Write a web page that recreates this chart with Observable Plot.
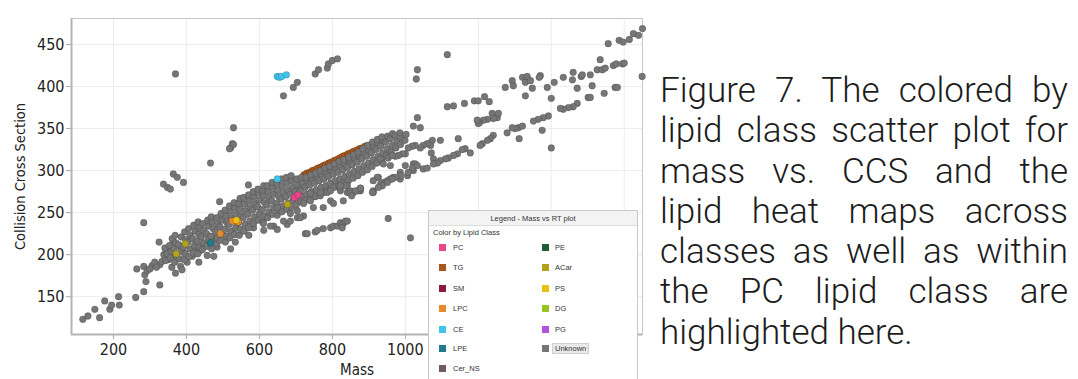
<!DOCTYPE html>
<html><head><meta charset="utf-8">
<script src="https://cdn.jsdelivr.net/npm/d3@7"></script>
<script src="https://cdn.jsdelivr.net/npm/@observablehq/plot@0.6"></script>
<style>
html,body{margin:0;padding:0;background:#fff;}
#root{position:relative;width:1078px;height:379px;overflow:hidden;background:#fff;}
#chart{position:absolute;left:0;top:0;}
#legend{position:absolute;left:428px;top:210px;width:208px;height:185px;border:1px solid #c9c9c9;background:#fff;font-family:"Liberation Sans",Arial,sans-serif;font-size:7.5px;color:#333;}
#legend .hdr{position:absolute;left:0;top:0;width:100%;height:14px;line-height:15px;text-align:center;background:#f3f3f3;border-bottom:1px solid #dcdcdc;}
#legend .sub{position:absolute;left:4px;top:17px;}
#legend .sw{position:absolute;width:7px;height:7px;}
#legend .lb{position:absolute;line-height:10px;}
#legend .hl{background:#e9e9e9;border:1px solid #cfcfcf;padding:0 2px;margin-left:-3px;}
#caption{position:absolute;left:660px;top:71px;width:408px;font-family:Roboto,"Open Sans",sans-serif;font-weight:300;font-size:35px;line-height:40.3px;color:#1c1c1c;}
#caption div{white-space:nowrap;}
#caption span{display:inline-block;white-space:nowrap;}
</style></head>
<body><div id="root"><div id="chart"></div><div id="legend"></div><div id="caption"></div></div>
<script>
// ---- axis ticks ----
const xTicks = [200, 400, 600, 800, 1000, 1200, 1400, 1600];
const xTickLabels = [200, 400, 600, 800, 1000];
const yTicks = [150, 200, 250, 300, 350, 400, 450];

// ---- lipid classes (legend order) ----
const classes = ["PC","TG","SM","LPC","CE","LPE","Cer_NS","PE","ACar","PS","DG","PG","Unknown"];
const classColors = ["#e8458b","#a8561c","#8c1a3c","#e8892c","#40c4ea","#1f7a8c","#6f5b5b","#1d5e33","#b3a21a","#e9c113","#98c41f","#b352e2","#767676"];

// ---- Unknown points [mass, CCS] ----
const unknownTail = [[116,123],[130,127],[149,135],[162,125],[176,145],[190,135],[195,140],[214,150],[216,140],[261,149],[264,183],[283,156],[283,186],[289,168],[286,176],[292,181],[306,187],[313,191],[327,188],[327,164],[325,215],[338,200],[283,238],[350,194],[356,197],[370,178],[384,186],[388,182],[365,215],[384,209],[391,203],[402,191],[416,198],[420,207],[434,191],[438,205],[447,213],[457,199],[475,198],[484,209],[475,219],[521,207],[534,215],[571,223],[584,232],[612,229],[639,234],[649,230],[676,236],[726,225],[753,227],[300,183],[318,185],[333,192],[345,205],[360,185],[376,195]];
const unknownUpperLeft = [[370,415],[666,389],[693,399],[704,405],[753,415],[762,420],[786,422],[789,427],[800,431],[814,433],[529,351],[521,327],[526,332],[529,331],[518,326],[466,309],[337,284],[348,280],[356,278],[364,296],[375,292],[392,286],[570,283],[491,263]];
const unknownMainBand = [
[343,193],[347,201],[341,208],[356,196],[359,204],[354,211],[361,219],[368,191],[372,199],[366,207],[371,214],[369,223],
[381,195],[385,204],[379,212],[386,221],[394,194],[397,201],[392,209],[398,218],[395,227],[407,198],[410,207],[404,215],[411,223],[406,231],
[419,202],[422,211],[417,219],[424,228],[420,235],[431,201],[435,209],[429,216],[434,224],[437,232],[432,239],[444,206],[447,214],[441,221],[448,229],[445,237],
[457,210],[460,218],[455,225],[461,234],[458,241],[469,207],[472,215],[467,222],[473,231],[470,239],[468,245],[482,213],[485,220],[480,227],[486,236],[483,244],
[494,217],[497,224],[492,233],[498,241],[495,249],[507,215],[510,222],[505,230],[511,238],[508,246],[506,253],[519,220],[522,228],[517,236],[523,244],[520,252],[518,258],
[532,224],[535,232],[530,240],[536,248],[533,256],[531,262],[545,223],[548,230],[543,238],[549,246],[546,254],[544,261],[547,267],
[558,228],[561,236],[556,244],[562,252],[559,260],[557,268],[571,232],[574,240],[569,248],[575,256],[572,264],[570,271],
[584,237],[587,245],[582,253],[588,261],[585,269],[583,275],[597,241],[600,249],[595,257],[601,265],[598,273],[596,278],
[610,239],[613,246],[608,254],[614,262],[611,270],[609,277],[612,282],[623,244],[626,251],[621,259],[627,267],[624,275],[622,282],
[636,248],[639,256],[634,264],[640,272],[637,280],[635,286],[649,247],[652,253],[647,261],[653,269],[650,277],[648,285],[651,289],
[662,251],[665,258],[660,266],[666,274],[663,282],[661,290],[675,254],[678,261],[673,269],[679,277],[676,285],[674,292],
[688,256],[691,264],[686,272],[692,280],[689,288],[687,294],[701,259],[704,267],[699,275],[705,283],[702,290],
[714,263],[717,270],[712,278],[718,286],[715,292],[727,265],[730,272],[725,280],[731,288],[728,292],
[740,267],[743,275],[738,283],[744,291],[741,295],[753,269],[756,277],[751,285],[757,293],[754,297],
[766,272],[769,280],[764,288],[770,296],[767,300],[779,274],[782,282],[777,290],[783,298],[780,303],
[792,277],[795,285],[790,293],[796,301],[793,305],[805,280],[808,288],[803,296],[809,304],[806,308],
[818,282],[821,290],[816,298],[822,306],[819,311],[831,285],[834,293],[829,301],[835,309],[832,313],
[844,288],[847,296],[842,304],[848,312],[845,316],[857,291],[860,299],[855,307],[861,315],[858,319],
[870,294],[873,302],[868,310],[874,318],[871,322],[883,298],[886,306],[881,314],[887,322],[884,326],
[896,301],[899,309],[894,317],[900,325],[897,330],[909,305],[912,313],[907,321],[913,329],[910,334],
[922,309],[925,317],[920,325],[926,333],[923,337],[935,313],[938,321],[933,329],[939,336],[936,340],
[948,318],[951,326],[946,334],[952,341],[961,322],[964,330],[959,338],[965,344],[974,327],[977,335],[972,342],
[987,331],[990,339],[985,345],[999,336],[1002,343]];
const unknownLowerBand = [[611,237],[630,234],[649,256],[685,240],[704,244],[721,246],[748,256],[775,256],[795,264],[803,261],[830,264],[841,282],[858,274],[877,276],[912,276],[926,292],[940,286],[967,292],[986,290],[712,244],[666,240],[685,249],[704,252],[721,261],[740,264],[767,270],[786,274],[822,276],[841,274],[869,276],[951,288],[986,298],[1022,300],[1077,314],[1069,333],[1096,336],[712,276],[740,273],[767,274],[795,276],[822,280],[849,276],[877,279],[912,274],[932,284],[959,290],[1006,294],[1022,308],[1049,302],
[731,225],[759,229],[775,231],[795,232],[803,234],[814,234],[822,238],[830,237],[836,240],[841,240],[827,232],[953,243],[1014,220]];
const unknownRightLines = [[1115,438],[1033,420],[1030,409],[1033,363],[1022,353],[1041,351],[1115,376],[1132,377],[1162,380],[1189,383],[1200,383],[1217,388],[1230,382],
[1274,399],[1293,407],[1296,401],[1321,411],[1334,412],[1329,405],[1343,407],[1348,398],[1370,413],[1367,411],[1329,389],
[1389,399],[1400,386],[1408,405],[1433,411],[1458,408],[1460,417],[1471,398],[1482,412],[1485,414],[1507,414],[1512,401],[1534,432],[1526,420],[1540,420],[1548,422],[1570,425],[1578,427],[1595,427],[1600,428],[1556,451],[1586,455],[1597,453],[1614,456],[1625,463],[1639,461],[1650,469],[1649,412],
[1545,392],[1575,399],[1581,399],[1501,387],[1507,387],[1471,380],[1460,376],[1447,375],[1433,373],[1425,374],[1392,365],[1378,363],[1364,361],[1351,359],[1375,348],[1400,327],
[1310,351],[1321,353],[1301,350],[1279,345],[1293,351],[1312,338],[1241,342],[1233,338],[1225,336],[1211,332],[1205,330],
[1238,368],[1252,363],[1255,368],[1241,362],[1225,361],[1214,360],[1203,357],[1200,356],[1197,360],[1145,338],
[1178,321],[1164,326],[1156,325],[1143,320],[1132,318],[1118,315],[1110,314],[1096,312],[1088,309],[1077,308],[1060,303],
[1074,336],[1069,330],[1060,332],[1049,330],[1041,327],[1027,330],[1019,329],[1008,327],[1000,320],[992,320],[981,318],[973,317],[1071,321],
[1027,308],[1019,303],[1008,298],[1033,306],[1000,306],[987,294],[973,292],[964,290],[951,286],[937,282],[926,280],
[932,314],[940,308],[953,315],[964,318],[959,306],[923,292],[912,288],[910,274],[863,276],[849,273],[877,279],[836,282],[822,282],[853,270]];

// ---- coloured classes [mass, CCS] ----
const tgPts = [[722,295],[730,297],[738,298],[745,300],[752,301],[760,303],[768,304],[775,306],[782,307],[790,309],[797,310],[805,312],[812,313],[820,315],[828,317],[835,318],[843,320],[850,321],[858,323],[866,324],[874,326],[882,327],[890,329],[898,330]];
const cePts = [[649,412],[655,411],[661,412],[674,414],[649,290]];
const pcPts = [[696,268],[706,271]];
const acarPts = [[372,201],[397,213],[677,260]];
const lpcPts = [[493,225],[526,240],[542,239]];
const lpePts = [[466,214]];
const psPts = [[537,241]];

const rows = [];
const add = (arr, cls) => arr.forEach(([m, c]) => rows.push({mass: m, ccs: c, cls}));
add(tgPts, "TG");
[unknownTail, unknownUpperLeft, unknownMainBand, unknownLowerBand, unknownRightLines].forEach(a => add(a, "Unknown"));
add(cePts, "CE"); add(pcPts, "PC"); add(acarPts, "ACar"); add(lpcPts, "LPC"); add(lpePts, "LPE"); add(psPts, "PS");

const narrow = '"Liberation Sans Narrow","DejaVu Sans Condensed","Roboto Condensed",sans-serif';
const chart = Plot.plot({
  width: 650, height: 379,
  marginLeft: 71, marginRight: 8, marginTop: 18, marginBottom: 45,
  x: {domain: [85, 1650]},
  y: {domain: [105, 481]},
  color: {domain: classes, range: classColors},
  style: {fontFamily: narrow, fontSize: "16px", color: "#222", background: "#fff", overflow: "visible"},
  marks: [
    Plot.gridX(xTicks, {stroke: "#ececec", strokeOpacity: 1}),
    Plot.gridY(yTicks, {stroke: "#ececec", strokeOpacity: 1}),
    Plot.frame({stroke: "#c6c6c6"}),
    Plot.ruleX([85], {stroke: "#b4b4b4", strokeWidth: 2}),
    Plot.ruleY([105], {stroke: "#b4b4b4", strokeWidth: 2}),
    Plot.axisX({ticks: xTickLabels, tickSize: 5, tickPadding: 4, tickFormat: d => String(d), label: null, stroke: "#aaa", fill: "#222", fontSize: 16}),
    Plot.axisY({ticks: yTicks, tickSize: 5, tickPadding: 2, tickFormat: d => String(d), label: null, stroke: "#aaa", fill: "#222", fontSize: 16}),
    Plot.text(["Mass"], {frameAnchor: "bottom", dy: 40, fontSize: 15, fill: "#222"}),
    Plot.text(["Collision Cross Section"], {frameAnchor: "left", textAnchor: "middle", lineAnchor: "middle", dx: -51, rotate: -90, fontSize: 14.5, fill: "#222"}),
    Plot.dot(rows, {x: "mass", y: "ccs", fill: "cls", r: 3.4, stroke: "#000", strokeOpacity: 0.22, strokeWidth: 0.7})
  ]
});
document.getElementById("chart").appendChild(chart);

// ---- legend built from class arrays ----
const lg = document.getElementById("legend");
lg.innerHTML = '<div class="hdr">Legend - Mass vs RT plot</div><div class="sub">Color by Lipid Class</div>';
const rowTops = [37, 57, 78, 98, 119, 138, 158];
classes.forEach((c, i) => {
  const col = i < 7 ? 0 : 1, r = i < 7 ? i : i - 7;
  const sx = col ? 113 : 10, lx = col ? 126 : 24;
  const cy = rowTops[r];
  const sw = document.createElement("div"); sw.className = "sw";
  sw.style.left = sx + "px"; sw.style.top = (cy - 4) + "px"; sw.style.background = classColors[i];
  const lb = document.createElement("div"); lb.className = "lb";
  lb.style.left = lx + "px"; lb.style.top = (cy - 5) + "px";
  lb.innerHTML = c === "Unknown" ? '<span class="hl">Unknown</span>' : c;
  lg.appendChild(sw); lg.appendChild(lb);
});

// ---- caption, justified line by line ----
const captionLines = ["Figure 7. The colored by", "lipid class scatter plot for", "mass vs. CCS and the", "lipid heat maps across", "classes as well as within", "the PC lipid class are", "highlighted here."];
const cap = document.getElementById("caption");
captionLines.forEach((t, i) => {
  const d = document.createElement("div");
  const s = document.createElement("span");
  s.textContent = t; d.appendChild(s); cap.appendChild(d);
  if (i < captionLines.length - 1) {
    const w = s.getBoundingClientRect().width;
    const gaps = (t.match(/ /g) || []).length;
    s.style.wordSpacing = ((408 - w) / gaps) + "px";
  }
});
</script></body></html>
